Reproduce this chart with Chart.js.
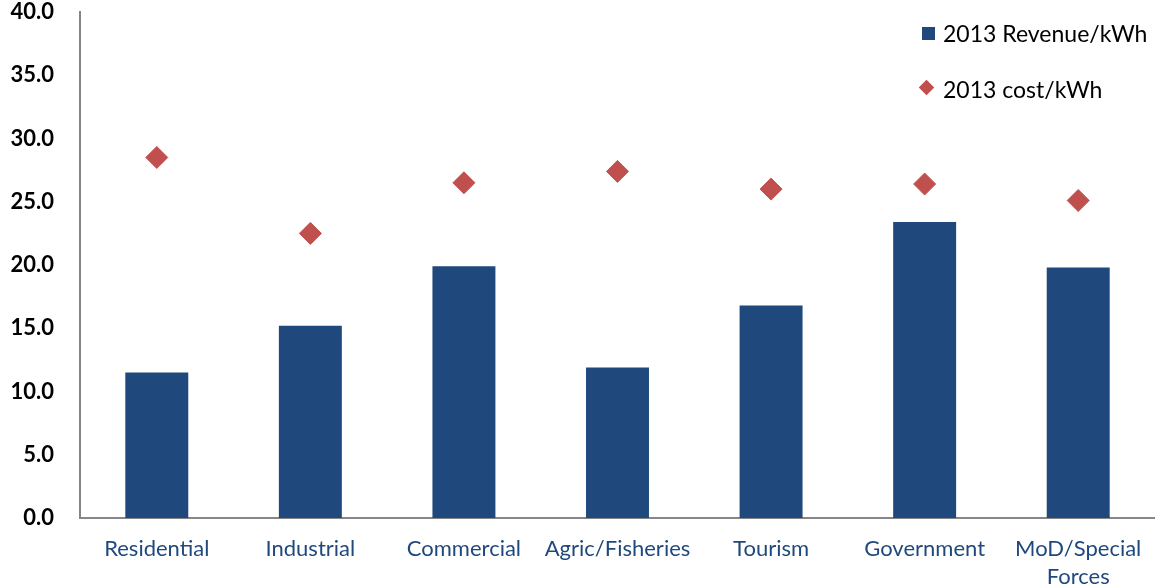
<!DOCTYPE html>
<html><head><meta charset="utf-8">
<script src="https://cdn.jsdelivr.net/npm/chart.js@4.4.1/dist/chart.umd.min.js"></script>
<style>
html,body{margin:0;padding:0;background:#fff;}
#wrap{position:relative;width:1155px;height:588px;}
#legend{position:absolute;left:918px;top:18px;font-family:Lato,"Open Sans",sans-serif;font-size:23px;color:#000;}
.li{position:relative;height:30px;line-height:30px;padding-left:25px;white-space:nowrap;}
.sq{position:absolute;left:4px;top:9px;width:13px;height:13px;background:#1F497D;}
.dm{position:absolute;left:3px;top:8px;width:11px;height:11px;background:#C0504D;transform:rotate(45deg);transform-origin:center;}
</style></head>
<body><div id="wrap"><canvas id="c" width="1155" height="588"></canvas>
<div id="legend">
<div class="li"><span class="sq"></span>2013 Revenue/kWh</div>
<div class="li" style="margin-top:26px"><span class="dm"></span>2013 cost/kWh</div>
</div></div>
<script>
const categories = ["Residential","Industrial","Commercial","Agric/Fisheries","Tourism","Government",["MoD/Special","Forces"]];
const revenue = [11.5, 15.2, 19.9, 11.9, 16.8, 23.4, 19.8];
const cost = [28.5, 22.5, 26.5, 27.4, 26.0, 26.4, 25.1];
const yTicks = [0,5,10,15,20,25,30,35,40];
const FONT = 'Lato, "Open Sans", sans-serif';

new Chart(document.getElementById('c'), {
  data: {
    labels: categories,
    datasets: [
      {type:'scatter', label:'2013 cost/kWh', data: cost, backgroundColor:'#C0504D', borderColor:'#C0504D',
       pointStyle:'rectRot', pointRadius:11, pointHoverRadius:11, showLine:false, order:0},
      {type:'bar', label:'2013 Revenue/kWh', data: revenue, backgroundColor:'#1F497D', barPercentage:0.82, categoryPercentage:0.5, order:1}
    ]
  },
  options: {
    responsive:false, animation:false,
    layout:{autoPadding:false, padding:{top:12,right:0,left:0,bottom:0}},
    plugins:{legend:{display:false}, tooltip:{enabled:false}},
    scales:{
      x:{type:'category', offset:true,
         grid:{display:false, drawTicks:false},
         border:{display:true,color:'#868686',width:2},
         ticks:{color:'#1F497D', font:{family:FONT,size:22,lineHeight:1.27}, padding:17, maxRotation:0, autoSkip:false},
         afterFit:(s)=>{s.height=70; s.paddingLeft=0; s.paddingRight=0;}
      },
      y:{min:0,max:40,
         grid:{display:false, drawTicks:false},
         border:{display:true,color:'#868686',width:2},
         afterBuildTicks:(s)=>{s.ticks = yTicks.map(v=>({value:v}));},
         ticks:{color:'#000', font:{family:FONT,size:22,weight:'bold'}, padding:26, callback:(v)=>Number(v).toFixed(1)},
         afterFit:(s)=>{s.width=80; s.paddingTop=0; s.paddingBottom=0;}
      }
    }
  }
});
</script></body></html>
